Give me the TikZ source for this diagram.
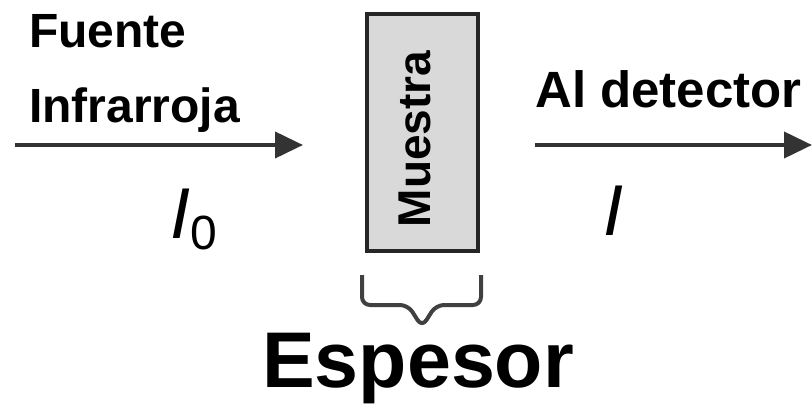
\documentclass[tikz,border=0pt]{standalone}
\usepackage{fontspec}
\setmainfont{Liberation Sans}
\usetikzlibrary{arrows.meta}

\begin{document}
\begin{tikzpicture}[x=1pt, y=-1pt,
    lbl/.style={inner sep=0pt, anchor=base west, font=\bfseries\fontsize{48}{48}\selectfont},
    beam/.style={line width=4pt, black!80, -{Triangle[length=28pt, width=26pt]}},
    intens/.style={inner sep=0pt, anchor=base west, font=\itshape\fontsize{72}{72}\selectfont}]
      \useasboundingbox (0, 0) rectangle (812, 404);
      % sample slab
      \node[draw=black!85, line width=4pt, fill=black!15, minimum width=111pt,
        minimum height=237pt, inner sep=0pt] (box) at (422.5, 132.5) {};
      \node[inner sep=0pt, rotate=90, font=\bfseries\fontsize{46}{46}\selectfont]
        (muestra) at (415, 139) {Muestra};
      % incoming and outgoing beams
      \coordinate (src) at (15, 145);
      \coordinate (srcend) at (303, 145);
      \coordinate (out) at (535, 145);
      \coordinate (det) at (812, 145);
      \draw[beam] (src) -- (srcend);
      \draw[beam] (out) -- (det);
      \node[lbl] (fuente) at (29, 48) {Fuente};
      \node[lbl] (infra) at (29, 122) {Infrarroja};
      \node[lbl, font=\bfseries\fontsize{51}{51}\selectfont] (aldet) at (535, 107) {Al detector};
      \node[intens] (izero) at (170, 238) {I{\upshape\fontsize{48}{48}\selectfont\raisebox{-11pt}{0}}};
      \node[intens] (ifinal) at (603, 235) {I};
      % thickness brace
      \draw[line width=4pt, black!75, rounded corners=8pt]
        (box.south west) ++(-3, 22) -- ++(0, 30) -- (408, 305) -- (422, 327)
        -- (436, 305) -- (481, 305) -- ++(0, -30);
      \node[inner sep=0pt, anchor=base west, font=\bfseries\fontsize{79}{79}\selectfont]
        (espesor) at (262, 387) {Espesor};
\end{tikzpicture}
\end{document}
